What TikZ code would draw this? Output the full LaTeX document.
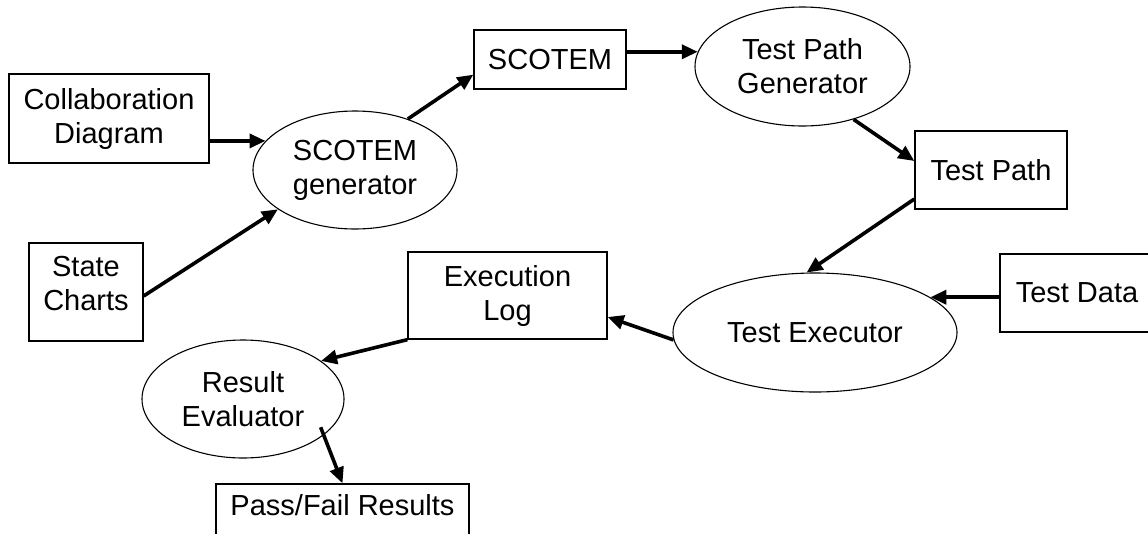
\documentclass[tikz,border=0pt]{standalone}
\usepackage{fontspec}
\setmainfont{Liberation Sans}
\usetikzlibrary{arrows.meta,shapes.geometric,calc}

\begin{document}
\begin{tikzpicture}[x=1pt,y=-1pt,
  every node/.style={font=\fontsize{29}{34}\selectfont, align=center, inner sep=0pt},
  boxnode/.style={draw, rectangle, line width=1.3pt},
  oval/.style={draw, ellipse, line width=1.1pt},
  flow/.style={line width=3.6pt, -{Triangle[length=16pt,width=14pt]}}]

\clip (0,0) rectangle (1148,533);

% processes and artefacts
\node[boxnode, minimum width=200pt, minimum height=89pt] (collab) at (109,118.5) {Collaboration\\Diagram};
\node[oval, minimum width=204pt, minimum height=118pt] (gen) at (355,170) {SCOTEM\\generator};
\node[boxnode, minimum width=152pt, minimum height=59pt] (scotem) at (550,59.5) {SCOTEM};
\node[oval, minimum width=215pt, minimum height=119pt] (tpg) at (802.5,66.5) {Test Path\\Generator};
\node[boxnode, minimum width=152pt, minimum height=78pt] (tpath) at (991,170) {Test Path};
\node[boxnode, minimum width=154pt, minimum height=78pt] (tdata) at (1077,293) {Test Data};
\node[oval, minimum width=284pt, minimum height=119pt] (texec) at (815,332.5) {Test Executor};
\node[boxnode, minimum width=199pt, minimum height=87pt] (elog) at (507.5,295.5) {Execution\\Log};
\node[boxnode, minimum width=114pt, minimum height=98pt] (state) at (86,292) {};
\node (state-label) at (86,284) {State\\Charts};
\node[oval, minimum width=202pt, minimum height=118pt] (reval) at (243,399) {Result\\Evaluator};
\node[boxnode, minimum width=253pt, minimum height=60pt] (pf) at (342.5,514) {};
\node (pf-label) at (342.5,505) {Pass/Fail Results};

% data flow
\draw[flow] (collab.east |- gen.162) -- (gen.162);
\draw[flow] ($(state.east)+(0,4)$) -- (gen.207);
\draw[flow] (gen.44) -- ($(scotem.south west)+(0,-15)$);
\draw[flow] (scotem.east |- tpg.172) -- (tpg.172);
\draw[flow] (tpg.314) -- ($(tpath.west)+(0,-9)$);
\draw[flow] ($(tpath.west)+(0,29)$) -- (texec.98);
\draw[flow] (tdata.west |- texec.17) -- (texec.17);
\draw[flow] (texec.183) -- ($(elog.east)+(0,21.5)$);
\draw[flow] (elog.south west) -- (reval.26);
\draw[flow] ($(reval.center)!0.9!(reval.340)$) -- (pf.north);
\end{tikzpicture}
\end{document}
